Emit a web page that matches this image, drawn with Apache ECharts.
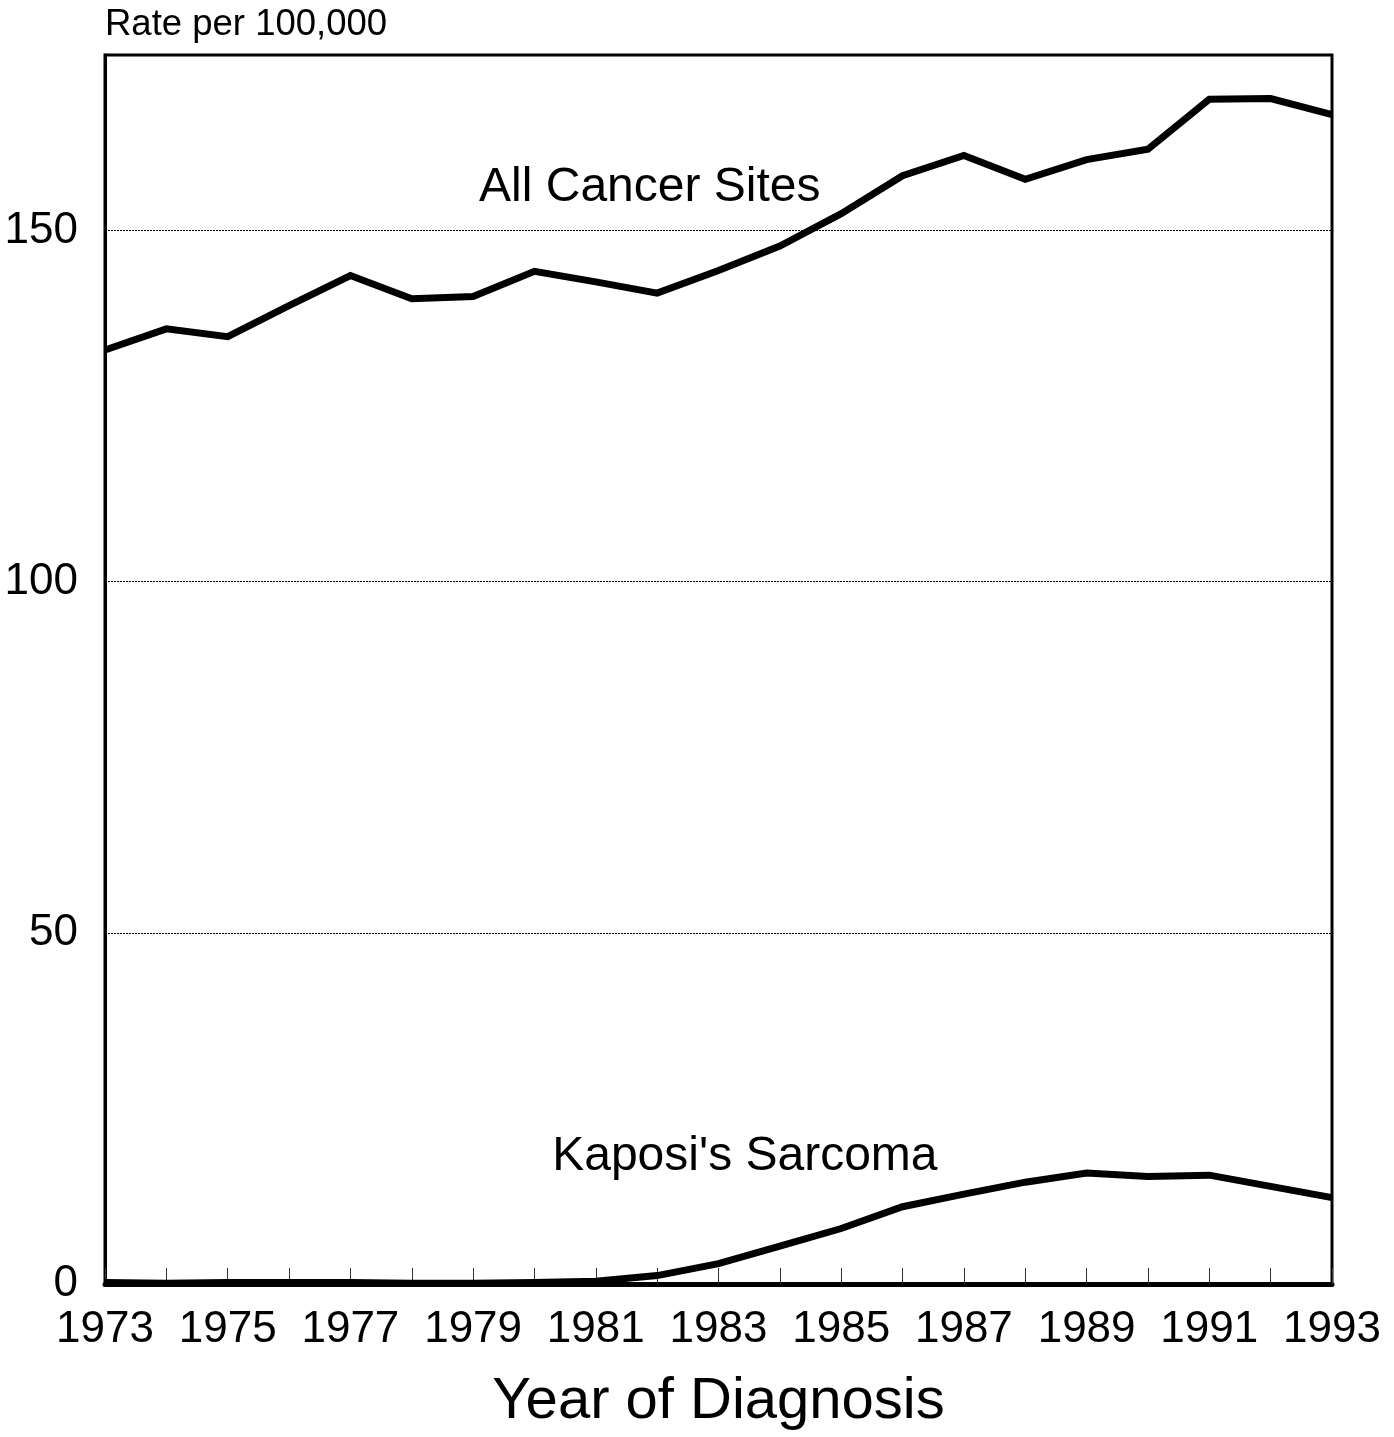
<!DOCTYPE html>
<html>
<head>
<meta charset="utf-8">
<style>
  html, body { margin: 0; padding: 0; background: #fff; }
  #chart { width: 1394px; height: 1437px; }
</style>
<script src="https://cdn.jsdelivr.net/npm/echarts@6/dist/echarts.min.js"></script>
</head>
<body>
<div id="chart"></div>
<script>
const years = [1973,1974,1975,1976,1977,1978,1979,1980,1981,1982,1983,1984,1985,1986,1987,1988,1989,1990,1991,1992,1993];
const allCancerSites = [133.0,136.0,134.9,139.3,143.6,140.3,140.6,144.2,142.7,141.1,144.3,147.8,152.4,157.8,160.7,157.3,160.1,161.6,168.7,168.8,166.5];
const kaposisSarcoma = [0.2,0.1,0.2,0.2,0.2,0.1,0.1,0.2,0.4,1.2,2.9,5.4,7.9,11.0,12.8,14.5,15.8,15.3,15.5,13.9,12.3];
const yTicks = [0, 50, 100, 150];
const labelAll = { text: 'All Cancer Sites', year: 1981.88, value: 156.1 };
const labelKS = { text: "Kaposi's Sarcoma", year: 1983.43, value: 18.1 };

const FONT = "'Liberation Sans', Arial, Helvetica, sans-serif";
const chart = echarts.init(document.getElementById('chart'), null, { renderer: 'canvas' });

function pairs(xs, ys) { return xs.map((x, i) => [x, ys[i]]); }

function textMark(lbl) {
  return {
    symbol: 'rect',
    symbolSize: [2, 2],
    silent: true,
    itemStyle: { color: 'rgba(0,0,0,0)' },
    data: [{
      coord: [lbl.year, lbl.value],
      label: {
        show: true,
        formatter: lbl.text,
        position: 'inside',
        fontFamily: FONT,
        fontSize: 48,
        color: '#000'
      }
    }]
  };
}

chart.setOption({
  animation: false,
  backgroundColor: '#fff',
  grid: {
    left: 105, right: 62, top: 55, bottom: 153,
    show: true, borderColor: '#000', borderWidth: 3, backgroundColor: 'transparent'
  },
  xAxis: {
    type: 'value',
    min: years[0], max: years[years.length - 1], interval: 1,
    name: 'Year of Diagnosis',
    nameLocation: 'middle',
    nameGap: 89,
    nameTextStyle: { fontFamily: FONT, fontSize: 58, color: '#000' },
    axisLine: { show: true, lineStyle: { color: '#000', width: 5 } },
    axisTick: { show: true, inside: true, length: 16, lineStyle: { color: '#333', width: 1 } },
    axisLabel: {
      fontFamily: FONT, fontSize: 44, color: '#000', margin: 24,
      formatter: v => ((v - years[0]) % 2 === 0 ? String(v) : '')
    },
    splitLine: { show: false }
  },
  yAxis: {
    type: 'value',
    min: 0, max: 175, interval: 50,
    name: 'Rate per 100,000',
    nameLocation: 'end',
    nameGap: 12,
    nameTextStyle: { fontFamily: FONT, fontSize: 36.5, color: '#000', align: 'left', verticalAlign: 'bottom' },
    axisLine: { show: true, lineStyle: { color: '#000', width: 3 } },
    axisTick: { show: false },
    axisLabel: {
      fontFamily: FONT, fontSize: 44, color: '#000', margin: 27,
      formatter: v => (yTicks.indexOf(v) >= 0 ? String(v) : '')
    },
    splitLine: {
      show: true,
      lineStyle: { color: '#000', width: 1, type: [2, 1] }
    }
  },
  series: [
    {
      name: 'All Cancer Sites',
      type: 'line',
      data: pairs(years, allCancerSites),
      showSymbol: false,
      symbol: 'none',
      lineStyle: { color: '#000', width: 7, join: 'miter' },
      markPoint: textMark(labelAll)
    },
    {
      name: "Kaposi's Sarcoma",
      type: 'line',
      data: pairs(years, kaposisSarcoma),
      showSymbol: false,
      symbol: 'none',
      lineStyle: { color: '#000', width: 7, join: 'miter' },
      markPoint: textMark(labelKS)
    }
  ]
});
</script>
</body>
</html>
